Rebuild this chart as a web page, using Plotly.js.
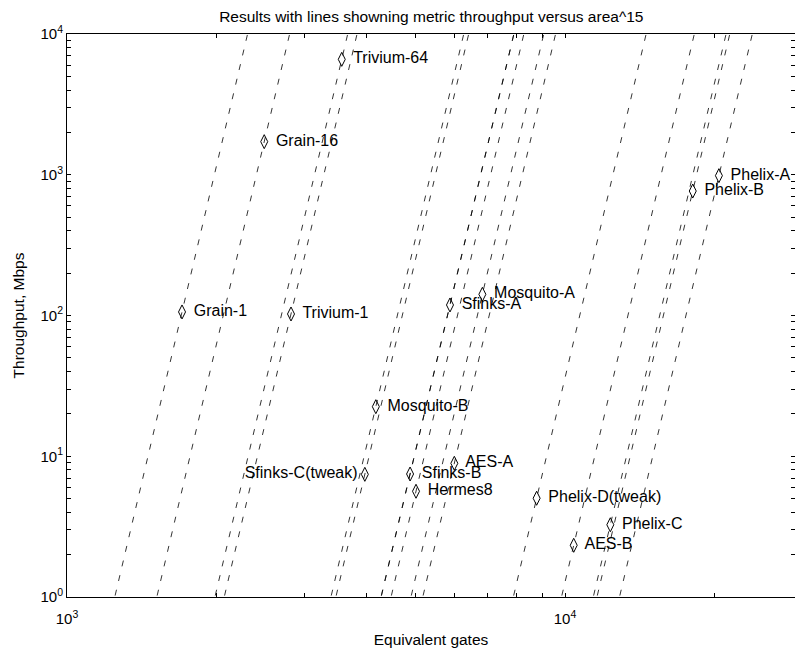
<!DOCTYPE html>
<html>
<head>
<meta charset="utf-8">
<script src="https://cdn.plot.ly/plotly-3.0.1.min.js"></script>
<style>html,body{margin:0;padding:0;background:#fff;}#chart{width:795px;height:650px;}</style>
</head>
<body>
<div id="chart"></div>
<script>
// Data
const names = ["Grain-1","Grain-16","Trivium-64","Trivium-1","Mosquito-B","Sfinks-C(tweak)",
  "Sfinks-B","Hermes8","AES-A","Sfinks-A","Mosquito-A","Phelix-D(tweak)","AES-B","Phelix-C",
  "Phelix-B","Phelix-A"];
const gates = [1702, 2489, 3562, 2817, 4170, 3963, 4885, 5021, 5994, 5875, 6824, 8770, 10410, 12330, 18050, 20370];
const throughput = [106, 1718, 6607, 102.5, 22.5, 7.44, 7.48, 5.64, 8.91, 118.8, 141.4, 5.03, 2.33, 3.26, 766, 985];
const labelSide = ["middle right","middle right","middle right","middle right","middle right","middle left",
  "middle right","middle right","middle right","middle right","middle right","middle right","middle right",
  "middle right","middle right","middle right"];
const metricExponent = 15;
// tick positions (decades labelled, intermediate values unlabelled)
const yTickVals = [1,2,3,4,5,6,7,8,9,10,20,30,40,50,60,70,80,90,100,200,300,400,500,600,700,800,900,
  1000,2000,3000,4000,5000,6000,7000,8000,9000,10000];
const yDecadeLabels = {1:"10<sup>0</sup>",10:"10<sup>1</sup>",100:"10<sup>2</sup>",1000:"10<sup>3</sup>",10000:"10<sup>4</sup>"};
const xTickVals = [1000,2000,3000,4000,5000,6000,7000,8000,9000,10000,20000];
const xDecadeLabels = {1000:"10<sup>3</sup>",10000:"10<sup>4</sup>"};

const FONT = "Liberation Sans, Arial, Helvetica, sans-serif";
const traces = [];
// iso-metric lines: throughput proportional to area^15 through each design
const yEnds = [0.5, 20000];
for (let i = 0; i < gates.length; i++) {
  const xs = yEnds.map(y => gates[i] * Math.pow(y / throughput[i], 1 / metricExponent));
  traces.push({
    x: xs, y: yEnds, type: "scatter", mode: "lines", hoverinfo: "skip", showlegend: false,
    line: {color: "#000", width: 0.8, dash: "6px,9px"}
  });
}
traces.push({
  x: gates, y: throughput, type: "scatter", mode: "markers+text", showlegend: false,
  text: names.map((n, i) => labelSide[i] === "middle left" ? n : " " + n),
  textposition: labelSide, cliponaxis: false,
  textfont: {family: FONT, size: 16, color: "#000"},
  marker: {symbol: "diamond-tall-open", size: 10, color: "#000", line: {width: 1, color: "#000"}}
});

const axisCommon = {
  type: "log", showgrid: false, zeroline: false, showline: true, mirror: "ticks",
  linecolor: "#000", linewidth: 1, ticks: "inside", ticklen: 4, tickcolor: "#000",
  tickfont: {family: FONT, size: 15, color: "#000"}
};
const layout = {
  width: 795, height: 650,
  margin: {l: 67, r: 0, t: 34, b: 53, pad: 0},
  paper_bgcolor: "#fff", plot_bgcolor: "#fff",
  font: {family: FONT, size: 15, color: "#000"},
  title: {text: "Results with lines showning metric throughput versus area^15",
    font: {family: FONT, size: 15.5, color: "#000"}, x: 0.5425, xanchor: "center", y: 0.975, yanchor: "middle"},
  xaxis: Object.assign({}, axisCommon, {
    range: [3, 4.4618], tickmode: "array", tickvals: xTickVals,
    ticktext: xTickVals.map(v => xDecadeLabels[v] || ""), ticklabelstandoff: 8,
    title: {text: "Equivalent gates", font: {family: FONT, size: 15.5, color: "#000"}, standoff: 8}
  }),
  yaxis: Object.assign({}, axisCommon, {
    range: [0, 4], tickmode: "array", tickvals: yTickVals,
    ticktext: yTickVals.map(v => yDecadeLabels[v] || ""),
    title: {text: "Throughput, Mbps", font: {family: FONT, size: 15.5, color: "#000"}, standoff: 12}
  })
};
Plotly.newPlot("chart", traces, layout, {displayModeBar: false, staticPlot: true});
</script>
</body>
</html>
